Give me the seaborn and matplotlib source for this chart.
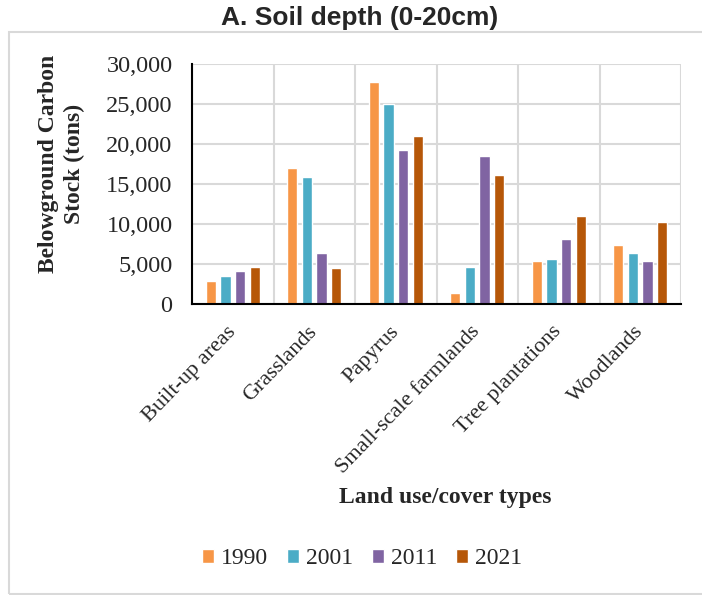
import numpy as np
import pandas as pd
import matplotlib
matplotlib.use('Agg')
import matplotlib.pyplot as plt
import seaborn as sns
from matplotlib.patches import Rectangle, Patch

# Dữ liệu
land_types = ['Built-up areas', 'Grasslands', 'Papyrus', 'Small-scale farmlands',
              'Tree plantations', 'Woodlands']
years = ['1990', '2001', '2011', '2021']
stock_1990 = [2900, 16980, 27750, 1410, 5390, 7370]
stock_2001 = [3520, 15820, 24980, 4640, 5630, 6380]
stock_2011 = [4100, 6340, 19220, 18520, 8120, 5430]
stock_2021 = [4640, 4560, 21000, 16160, 10940, 10230]
colors = ['#F79646', '#4BACC6', '#8064A2', '#B65708']

df = pd.DataFrame({'Type': land_types, '1990': stock_1990, '2001': stock_2001,
                   '2011': stock_2011, '2021': stock_2021})
plot_data = df.melt(id_vars='Type', var_name='Year', value_name='Stock')

sns.set_theme(style="white")
plt.rcParams['font.family'] = ['Liberation Serif', 'DejaVu Serif']

fig = plt.figure(figsize=(7.02, 5.95), dpi=100)
ax = fig.add_axes([192 / 702, 1 - 304 / 595, 489 / 702, 240 / 595])

sns.barplot(data=plot_data, x='Type', y='Stock', hue='Year', order=land_types,
            hue_order=years, palette=colors, width=0.72, gap=0.3,
            saturation=1, ax=ax, legend=False, zorder=3)

ax.set_xlim(-0.5, len(land_types) - 0.5)
ax.set_ylim(0, 30000)
ax.set_yticks(np.arange(0, 30001, 5000))
ax.set_yticklabels([f'{v:,}' for v in range(0, 30001, 5000)], fontsize=17.5)

# ticks & vertical grid at category boundaries (Excel style)
ax.set_xticks(np.arange(len(land_types)))
ax.set_xticklabels(land_types, rotation=46, ha='right', va='center',
                   rotation_mode='anchor', fontsize=16)
ax.set_xticks(np.arange(-0.5, len(land_types)), minor=True)
ax.tick_params(axis='x', which='major', length=0, pad=18)
ax.tick_params(axis='x', which='minor', length=6, width=1.5, color='black', direction='out')
ax.tick_params(axis='y', length=6, width=1.5, color='black', direction='out', pad=8)

ax.grid(False)
ax.yaxis.grid(True, color='#D9D9D9', linewidth=1.5, zorder=0)
ax.xaxis.grid(True, which='minor', color='#D9D9D9', linewidth=1.5, zorder=0)
ax.set_axisbelow(True)

for s in ['top', 'right']:
    ax.spines[s].set_visible(False)
for s in ['left', 'bottom']:
    ax.spines[s].set_color('black')
    ax.spines[s].set_linewidth(1.5)
    ax.spines[s].set_zorder(4)

ax.set_xlabel('')
ax.set_ylabel('')

# nhãn trục
fig.text(62 / 702, 1 - 164 / 595, 'Belowground Carbon\nStock (tons)', rotation=90,
         ha='center', va='center', multialignment='center', fontsize=17,
         fontweight='bold', linespacing=1.3)
fig.text(445 / 702, 1 - 497 / 595, 'Land use/cover types', ha='center', va='center',
         fontsize=17, fontweight='bold')

# tiêu đề
fig.text(360 / 702, 1 - 18 / 595, 'A. Soil depth (0-20cm)', ha='center', va='center',
         fontsize=19, fontweight='bold', family=['Liberation Sans', 'DejaVu Sans'])

# khung viền
fig.patches.append(Rectangle((9 / 702, 1 - 594 / 595), 720 / 702, (594 - 32) / 595,
                             transform=fig.transFigure, fill=False,
                             edgecolor='#D9D9D9', linewidth=1.5, zorder=0))

handles = [Patch(facecolor=c, label=y) for c, y in zip(colors, years)]
fig.legend(handles=handles, loc='center', bbox_to_anchor=(362 / 702, 1 - 559 / 595),
           ncol=4, frameon=False, fontsize=17, handlelength=0.5, handleheight=0.5,
           handletextpad=0.3, columnspacing=0.8)

plt.savefig('out.png', dpi=100)
